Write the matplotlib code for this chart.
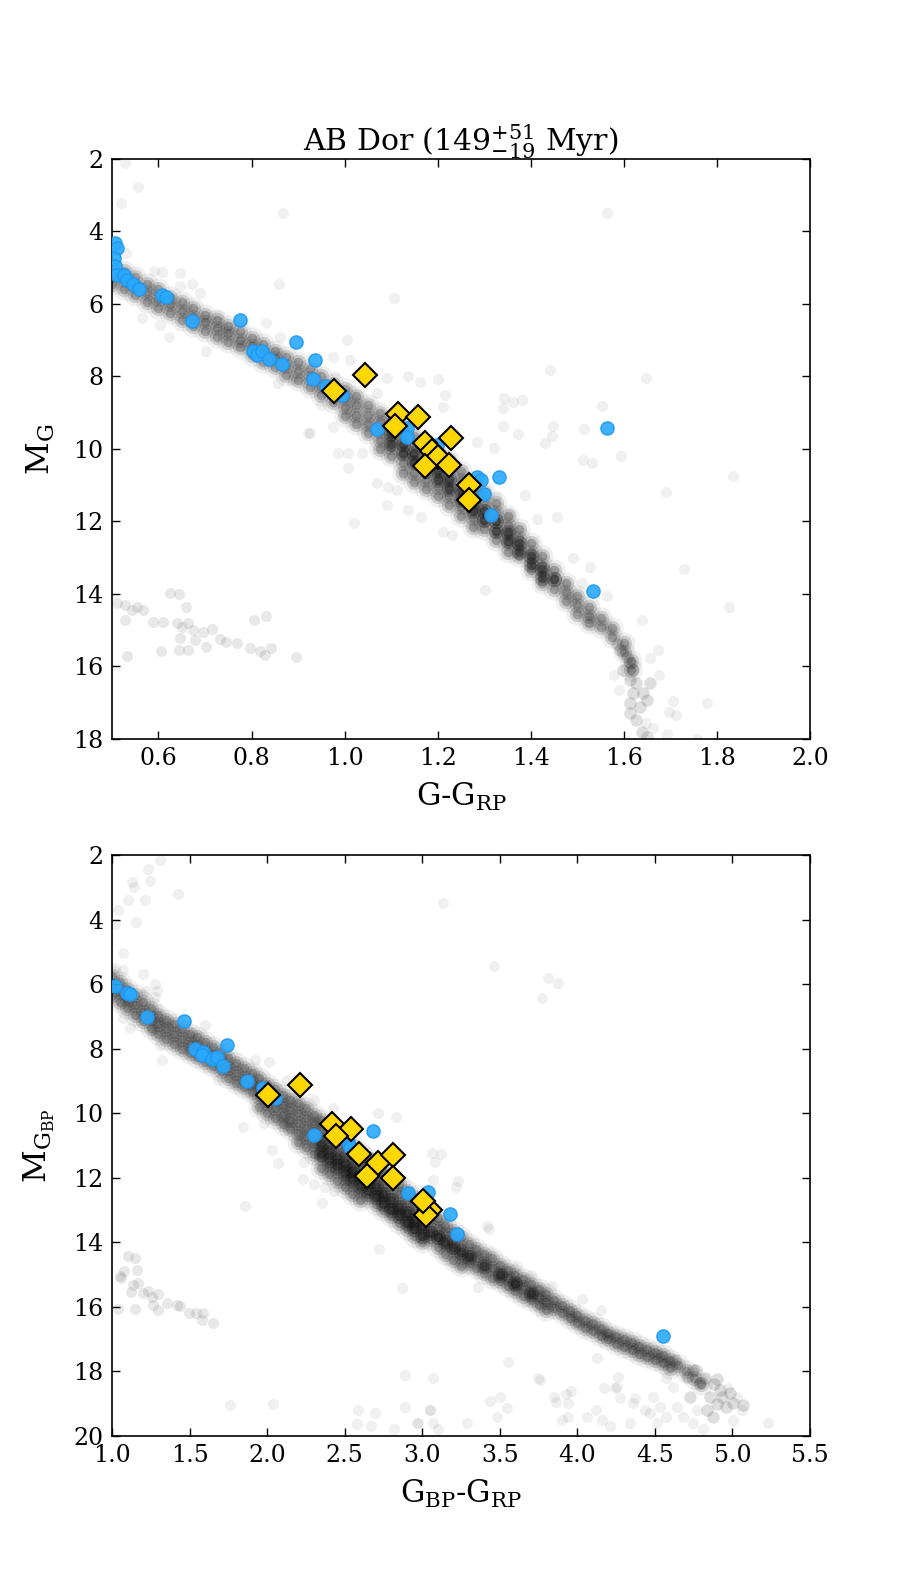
import matplotlib
matplotlib.use('Agg')
from matplotlib import pyplot as plt

plt.rcParams['font.family'] = 'DejaVu Serif'
plt.rcParams['mathtext.fontset'] = 'dejavuserif'

# ---- top panel: G-G_RP vs M_G ----
# main sequence of the field, read column by column (colour: list of mags)
ms_top_c = [0.500, 0.525, 0.550, 0.575, 0.600, 0.625, 0.650, 0.675, 0.700, 0.725,
            0.750, 0.775, 0.800, 0.825, 0.850, 0.875, 0.900, 0.925, 0.950, 0.975,
            1.000, 1.025, 1.050, 1.075, 1.100, 1.125, 1.150, 1.175, 1.200, 1.225,
            1.250, 1.275, 1.300, 1.325, 1.350, 1.375, 1.400, 1.425, 1.450, 1.475,
            1.500, 1.525, 1.550, 1.575, 1.600, 1.615]
ms_top_m = [[4.95, 5.2, 5.45], [5.1, 5.35, 5.6], [5.25, 5.5, 5.75], [5.45, 5.7, 5.95],
            [5.6, 5.85, 6.1], [5.8, 6.0, 6.25], [5.95, 6.2, 6.45], [6.1, 6.35, 6.6],
            [6.3, 6.5, 6.75], [6.45, 6.65, 6.9], [6.6, 6.8, 7.05], [6.75, 7.0, 7.2],
            [6.95, 7.15, 7.4], [7.1, 7.35, 7.6], [7.3, 7.5, 7.75], [7.45, 7.7, 7.95],
            [7.6, 7.85, 8.1], [7.8, 8.05, 8.3], [8.0, 8.25, 8.5], [8.2, 8.45, 8.7],
            [8.35, 8.6, 8.85, 9.1], [8.55, 8.8, 9.05, 9.3], [8.8, 9.05, 9.3, 9.55],
            [9.0, 9.25, 9.5, 9.75, 10.0], [9.2, 9.45, 9.7, 9.95, 10.2],
            [9.4, 9.65, 9.9, 10.15, 10.4, 10.65], [9.65, 9.9, 10.15, 10.4, 10.65, 10.9],
            [9.85, 10.1, 10.35, 10.6, 10.85, 11.1], [10.05, 10.3, 10.55, 10.8, 11.05, 11.3],
            [10.3, 10.55, 10.8, 11.05, 11.3, 11.55], [10.6, 10.85, 11.1, 11.35, 11.6, 11.85],
            [10.9, 11.15, 11.4, 11.65, 11.9, 12.15], [11.2, 11.45, 11.7, 11.95, 12.2],
            [11.5, 11.75, 12.0, 12.25, 12.5], [11.85, 12.1, 12.35, 12.6, 12.85],
            [12.2, 12.45, 12.7, 12.95], [12.6, 12.85, 13.1, 13.35], [12.95, 13.2, 13.45, 13.7],
            [13.35, 13.6, 13.85], [13.7, 13.95, 14.2], [14.05, 14.3, 14.55],
            [14.35, 14.6, 14.8], [14.65, 14.9], [14.95, 15.2], [15.35, 15.6], [15.85, 16.1]]

# densest part of the sequence (extra stars near the ridge)
core_top = [(1.100, 9.6), (1.100, 9.85), (1.125, 9.85), (1.125, 10.1), (1.150, 10.1),
            (1.150, 10.35), (1.175, 10.35), (1.175, 10.6), (1.200, 10.6), (1.200, 10.85),
            (1.225, 10.85), (1.225, 11.1), (1.250, 11.15), (1.250, 11.4), (1.275, 11.45),
            (1.275, 11.7), (1.300, 11.7), (1.300, 11.95), (1.325, 12.0), (1.325, 12.25),
            (1.350, 12.3), (1.350, 12.55), (1.375, 12.6), (1.375, 12.85), (1.400, 12.95),
            (1.400, 13.2), (1.425, 13.3), (1.425, 13.55), (1.450, 13.6)]

hook_top = [(1.585, 15.37), (1.606, 15.73), (1.613, 15.91), (1.620, 16.1), (1.613, 16.37),
            (1.627, 16.46), (1.620, 16.74), (1.642, 16.74), (1.613, 17.02), (1.634, 17.11),
            (1.613, 17.29), (1.627, 17.48), (1.649, 16.92), (1.656, 16.46), (1.598, 16.1),
            (1.592, 15.55), (1.640, 17.8), (1.650, 17.95)]

field_top = [(0.528, 2.12), (0.555, 2.76), (0.52, 3.22), (0.868, 3.48), (1.563, 3.48),
             (0.53, 4.6), (0.59, 5.1), (0.607, 5.11), (0.646, 5.15), (0.671, 5.45),
             (0.646, 5.5), (0.689, 5.70), (0.860, 5.45), (1.105, 5.84), (0.564, 6.38),
             (0.603, 6.58), (0.623, 6.90), (0.703, 7.29), (0.728, 6.30), (0.832, 6.52),
             (0.861, 6.90), (1.004, 6.99), (0.976, 7.45), (1.011, 7.54), (0.98, 8.0),
             (0.857, 8.19), (0.89, 8.1), (1.09, 8.05), (1.137, 8.0), (1.163, 8.14),
             (1.201, 8.08), (1.216, 8.51), (1.212, 8.83), (1.069, 8.47), (0.922, 9.57),
             (0.976, 9.39), (0.95, 8.8), (1.441, 7.82), (1.648, 8.05), (1.342, 8.60),
             (1.362, 8.71), (1.382, 8.65), (1.34, 8.88), (1.554, 8.81), (1.34, 9.37),
             (1.373, 9.59), (1.448, 9.37), (1.445, 9.63), (1.514, 9.46), (1.285, 9.80),
             (1.32, 9.98), (1.43, 9.84), (1.513, 10.30), (1.531, 10.39), (1.593, 10.19),
             (1.835, 10.74), (1.691, 11.18), (1.387, 11.27), (1.413, 11.94), (1.456, 11.87),
             (1.325, 11.3), (1.355, 11.77), (1.49, 13.02), (1.528, 13.27), (1.729, 13.32),
             (1.302, 13.89), (1.511, 13.71), (1.563, 14.06), (1.825, 14.35), (1.640, 14.72),
             (1.656, 15.78), (1.674, 15.55), (1.676, 16.23), (1.578, 16.23), (1.589, 16.65),
             (1.778, 17.0), (1.705, 16.94), (1.696, 17.25), (1.711, 17.34), (1.663, 17.71),
             (1.648, 17.57), (1.692, 17.85), (1.757, 17.99), (0.926, 9.57), (0.986, 10.10),
             (1.008, 10.10), (1.037, 10.10), (1.008, 10.53), (1.069, 10.95), (1.094, 11.04),
             (1.112, 11.13), (1.091, 11.55), (1.021, 12.03), (1.137, 11.68), (1.165, 11.87),
             (1.212, 12.28), (1.230, 12.37)]

wd_top = [(0.510, 14.26), (0.528, 14.30), (0.542, 14.44), (0.553, 14.35), (0.567, 14.44),
          (0.528, 14.72), (0.589, 14.76), (0.610, 14.76), (0.625, 13.98), (0.643, 14.0),
          (0.660, 14.35), (0.639, 14.81), (0.650, 14.90), (0.664, 14.81), (0.646, 15.22),
          (0.675, 14.99), (0.696, 15.04), (0.714, 14.98), (0.678, 15.27), (0.703, 15.45),
          (0.732, 15.25), (0.746, 15.32), (0.768, 15.34), (0.797, 15.50), (0.818, 15.56),
          (0.829, 15.68), (0.841, 15.49), (0.805, 14.72), (0.830, 14.61), (0.895, 15.73),
          (0.605, 15.56), (0.643, 15.55), (0.663, 15.55), (0.532, 15.71)]

mem_top = [(0.506, 4.33), (0.511, 4.47), (0.504, 4.74), (0.506, 4.95), (0.510, 5.20),
           (0.526, 5.20), (0.532, 5.34), (0.546, 5.45), (0.559, 5.59), (0.608, 5.75),
           (0.616, 5.82), (0.673, 6.47), (0.775, 6.44), (0.804, 7.29), (0.812, 7.41),
           (0.822, 7.31), (0.838, 7.53), (0.865, 7.66), (0.895, 7.04), (0.936, 7.54),
           (0.931, 8.07), (0.961, 8.25), (0.994, 8.51), (1.070, 9.45), (1.135, 9.42),
           (1.135, 9.66), (1.198, 9.89), (1.284, 10.76), (1.294, 10.86), (1.332, 10.78),
           (1.300, 11.24), (1.314, 11.82), (1.563, 9.43), (1.534, 13.91)]

new_top = [(0.978, 8.39), (1.044, 7.96), (1.115, 9.03), (1.158, 9.11), (1.108, 9.38),
           (1.172, 9.83), (1.229, 9.71), (1.187, 10.07), (1.201, 10.21), (1.172, 10.47),
           (1.225, 10.44), (1.268, 10.99), (1.268, 11.41)]

# ---- bottom panel: G_BP-G_RP vs M_G_BP ----
ms_bot_c = [1.00, 1.05, 1.10, 1.15, 1.20, 1.25, 1.30, 1.35, 1.40, 1.45,
            1.50, 1.55, 1.60, 1.65, 1.70, 1.75, 1.80, 1.85, 1.90, 1.95,
            2.00, 2.05, 2.10, 2.15, 2.20, 2.25, 2.30, 2.35, 2.40, 2.45,
            2.50, 2.55, 2.60, 2.65, 2.70, 2.75, 2.80, 2.85, 2.90, 2.95,
            3.00, 3.05, 3.10, 3.15, 3.20, 3.25, 3.30, 3.35, 3.40, 3.45,
            3.50, 3.55, 3.60, 3.65, 3.70, 3.75, 3.80, 3.85, 3.90, 3.95,
            4.00, 4.05, 4.10, 4.15, 4.20, 4.25, 4.30, 4.35, 4.40, 4.45,
            4.50, 4.55, 4.60, 4.65, 4.70, 4.75, 4.80]
ms_bot_m = [[5.75, 6.05, 6.35], [5.95, 6.25, 6.55], [6.15, 6.45, 6.75], [6.35, 6.65, 6.95],
            [6.55, 6.85, 7.15], [6.75, 7.05, 7.35], [6.95, 7.25, 7.55], [7.1, 7.4, 7.7],
            [7.25, 7.55, 7.85], [7.4, 7.7, 8.0], [7.55, 7.85, 8.15], [7.65, 7.95, 8.25],
            [7.8, 8.1, 8.4], [7.95, 8.25, 8.55], [8.1, 8.4, 8.7], [8.3, 8.6, 8.9],
            [8.45, 8.75, 9.05], [8.6, 8.9, 9.2], [8.75, 9.05, 9.35], [8.9, 9.2, 9.5, 9.8],
            [9.1, 9.4, 9.7, 10.0], [9.25, 9.55, 9.85, 10.15], [9.45, 9.75, 10.05, 10.35],
            [9.6, 9.9, 10.2, 10.5], [9.7, 10.0, 10.3, 10.6, 10.9],
            [9.85, 10.15, 10.45, 10.75, 11.05], [10.05, 10.35, 10.65, 10.95, 11.25],
            [10.2, 10.5, 10.8, 11.1, 11.4, 11.7], [10.4, 10.7, 11.0, 11.3, 11.6, 11.9],
            [10.6, 10.9, 11.2, 11.5, 11.8, 12.1], [10.8, 11.1, 11.4, 11.7, 12.0, 12.3],
            [11.0, 11.3, 11.6, 11.9, 12.2, 12.5], [11.2, 11.5, 11.8, 12.1, 12.4, 12.7],
            [11.4, 11.7, 12.0, 12.3, 12.6], [11.6, 11.9, 12.2, 12.5, 12.8],
            [11.8, 12.1, 12.4, 12.7, 13.0], [12.0, 12.3, 12.6, 12.9, 13.2],
            [12.2, 12.5, 12.8, 13.1, 13.4], [12.4, 12.7, 13.0, 13.3, 13.6],
            [12.6, 12.9, 13.2, 13.5, 13.8], [12.8, 13.1, 13.4, 13.7, 14.0],
            [13.0, 13.3, 13.6, 13.9], [13.25, 13.55, 13.85, 14.15], [13.45, 13.75, 14.05, 14.35],
            [13.65, 13.95, 14.25, 14.55], [13.85, 14.15, 14.45, 14.75], [14.05, 14.35, 14.65],
            [14.2, 14.5, 14.8], [14.35, 14.65, 14.95], [14.5, 14.8, 15.1], [14.7, 14.95, 15.2],
            [14.85, 15.1, 15.35], [15.0, 15.25, 15.5], [15.15, 15.4, 15.65], [15.3, 15.55, 15.8],
            [15.45, 15.7, 15.95], [15.6, 15.85, 16.1], [15.8, 16.05], [15.95, 16.2],
            [16.1, 16.35], [16.25, 16.5], [16.4, 16.65], [16.5, 16.75], [16.65, 16.9],
            [16.8, 17.0], [16.9, 17.15], [17.0, 17.25], [17.1, 17.35], [17.2, 17.45],
            [17.3, 17.55], [17.4, 17.65], [17.5, 17.75], [17.65, 17.9], [17.8], [18.0],
            [18.2], [18.4]]

core_bot = [(2.35, 10.95), (2.35, 11.25), (2.40, 11.15), (2.40, 11.45), (2.45, 11.35),
            (2.45, 11.65), (2.50, 11.55), (2.50, 11.85), (2.55, 11.75), (2.55, 12.05),
            (2.60, 11.95), (2.60, 12.25), (2.65, 12.1), (2.65, 12.4), (2.70, 12.3),
            (2.70, 12.6), (2.75, 12.5), (2.75, 12.8), (2.80, 12.7), (2.80, 13.0),
            (2.85, 12.9), (2.85, 13.2), (2.90, 13.1), (2.90, 13.4), (2.95, 13.3),
            (2.95, 13.6), (3.00, 13.5), (3.00, 13.8), (3.05, 13.7), (3.10, 13.85),
            (3.15, 14.0), (3.20, 14.15), (3.25, 14.3), (3.30, 14.45), (3.40, 14.75),
            (3.50, 15.0), (3.60, 15.3), (3.70, 15.6)]

hook_bot = [(4.791, 18.37), (4.856, 18.78), (4.834, 19.19), (4.920, 18.57), (4.984, 18.68),
            (5.006, 18.99), (5.070, 19.04), (4.727, 18.78), (4.705, 18.16), (4.748, 17.95),
            (4.877, 19.40), (4.96, 19.1), (4.9, 18.25), (4.823, 18.21), (4.88, 18.4),
            (4.93, 18.8), (4.9, 19.0), (4.765, 17.95), (4.63, 17.64)]

field_bot = [(1.309, 2.15), (1.234, 2.44), (1.245, 2.80), (1.127, 2.83), (1.14, 3.0),
             (1.101, 3.39), (1.213, 3.39), (1.424, 3.21), (1.041, 3.70), (1.155, 4.09),
             (1.02, 4.15), (1.073, 5.03), (1.02, 5.5), (1.073, 5.56), (1.198, 5.69),
             (1.277, 6.0), (1.29, 6.2), (1.22, 6.2), (1.28, 6.4), (1.2, 6.3), (1.073, 7.06),
             (1.116, 7.37), (1.256, 7.42), (1.309, 7.88), (1.320, 8.35), (1.600, 7.27),
             (1.685, 8.97), (1.922, 8.35), (2.014, 8.40), (2.126, 8.97), (2.3, 9.6),
             (2.427, 9.85), (1.843, 10.42), (1.98, 10.3), (2.717, 9.98), (2.831, 10.11),
             (3.136, 3.48), (3.465, 5.43), (3.809, 5.82), (3.878, 5.96), (3.770, 6.42),
             (1.857, 12.87), (1.761, 19.04), (2.040, 19.01), (2.352, 12.79), (2.030, 11.14),
             (2.073, 11.55), (2.24, 11.5), (2.233, 12.03), (2.3, 12.2), (2.373, 12.28),
             (2.43, 12.4), (2.721, 14.22), (2.868, 15.42), (2.889, 18.11), (3.072, 18.21),
             (2.588, 19.19), (2.696, 19.30), (2.578, 19.64), (2.67, 19.7), (2.89, 19.1),
             (2.975, 19.6), (3.05, 19.2), (3.1, 19.8), (2.82, 19.8), (3.061, 11.24),
             (3.12, 11.26), (3.08, 11.5), (3.23, 12.1), (3.07, 12.07), (3.22, 12.3),
             (3.416, 13.5), (3.43, 13.6), (3.609, 14.75), (3.7, 15.0), (3.835, 15.37),
             (4.03, 15.75), (4.15, 16.1), (3.36, 15.4), (3.55, 17.7), (3.437, 18.93),
             (3.5, 18.8), (3.545, 19.14), (3.480, 19.40), (3.287, 19.6), (3.050, 19.19),
             (2.965, 19.6), (3.07, 19.6), (3.749, 18.21), (3.760, 18.26), (3.85, 18.8),
             (3.86, 18.95), (3.93, 18.7), (3.96, 18.6), (3.942, 18.99), (3.94, 19.4),
             (3.9, 19.5), (4.061, 19.40), (4.12, 19.2), (4.16, 19.5), (4.21, 19.7),
             (4.34, 19.6), (4.254, 18.47), (4.17, 18.5), (4.265, 18.16), (4.13, 17.6),
             (4.24, 18.5), (4.275, 18.83), (4.361, 18.99), (4.372, 18.83), (4.436, 19.19),
             (4.47, 19.3), (4.490, 18.78), (4.53, 19.1), (4.512, 19.6), (4.57, 19.4),
             (4.57, 18.2), (4.619, 18.47), (4.640, 19.09), (4.683, 19.40), (4.748, 19.6),
             (4.81, 19.8), (4.77, 19.2), (5.006, 19.50), (5.03, 18.8), (4.97, 18.5),
             (5.06, 19.2), (5.231, 19.59), (4.52, 17.45)]

wd_bot = [(1.052, 15.06), (1.06, 15.1), (1.105, 14.44), (1.148, 14.49), (1.16, 14.85),
          (1.137, 15.32), (1.17, 15.25), (1.12, 15.55), (1.202, 15.58), (1.23, 15.5),
          (1.26, 15.7), (1.3, 15.6), (1.266, 15.94), (1.3, 16.1), (1.353, 15.89),
          (1.417, 15.94), (1.44, 15.96), (1.148, 16.07), (1.04, 16.06), (1.499, 16.20),
          (1.589, 16.20), (1.58, 16.4), (1.653, 16.49), (1.54, 16.18), (1.08, 14.9)]

mem_bot = [(1.019, 6.05), (1.099, 6.27), (1.116, 6.32), (1.224, 7.01), (1.466, 7.14),
           (1.535, 8.02), (1.589, 8.09), (1.578, 8.20), (1.643, 8.33), (1.675, 8.27),
           (1.718, 8.54), (1.744, 7.89), (1.868, 8.99), (1.976, 9.23), (2.051, 9.54),
           (2.304, 10.67), (2.685, 10.55), (2.524, 10.88), (2.535, 11.04), (2.910, 12.46),
           (3.039, 12.43), (3.182, 13.12), (3.224, 13.74), (4.550, 16.90)]

new_bot = [(2.008, 9.43), (2.212, 9.12), (2.416, 10.34), (2.541, 10.49), (2.444, 10.70),
           (2.595, 11.26), (2.717, 11.53), (2.814, 11.29), (2.642, 11.94), (2.814, 12.02),
           (3.05, 13.0), (3.024, 13.15), (3.007, 12.72)]


def columns(cols, mags):
    xs, ys = [], []
    for c, ml in zip(cols, mags):
        for m in ml:
            xs.append(c)
            ys.append(m)
    return xs, ys


def draw(ax, ms_c, ms_m, core, hook, field, wd, mem, new):
    sx, sy = columns(ms_c, ms_m)
    # dense field sequence: same stars drawn as soft halo, mid and core
    ax.plot(sx, sy, 'o', color='k', mec='none', ms=16, alpha=0.06, zorder=1)
    ax.plot(sx, sy, 'o', color='k', mec='none', ms=11, alpha=0.14, zorder=1)
    ax.plot(sx, sy, 'o', color='k', mec='none', ms=7, alpha=0.22, zorder=1)
    cx, cy = zip(*core)
    ax.plot(cx, cy, 'o', color='k', mec='none', ms=11, alpha=0.22, zorder=1)
    ax.plot(cx, cy, 'o', color='k', mec='none', ms=7, alpha=0.3, zorder=1)
    hx, hy = zip(*hook)
    ax.plot(hx, hy, 'o', color='k', mec='none', ms=9, alpha=0.13, zorder=1)
    fx, fy = zip(*field)
    ax.plot(fx, fy, 'o', color='k', mec='none', ms=8, alpha=0.06, zorder=1)
    wx, wy = zip(*wd)
    ax.plot(wx, wy, 'o', color='k', mec='none', ms=8, alpha=0.09, zorder=1)
    mx, my = zip(*mem)
    ax.plot(mx, my, 'o', color='#29aaff', mec='#1e96f0', mew=1.0, ms=9.5, alpha=0.9, zorder=3)
    nx, ny = zip(*new)
    ax.plot(nx, ny, 'D', color='#ffd700', mec='k', mew=1.5, ms=12, zorder=4)


def style(ax):
    ax.tick_params(direction='in', top=True, right=True, length=6, width=1, labelsize=17, pad=6)
    for s in ax.spines.values():
        s.set_linewidth(1.2)


fig = plt.figure(figsize=(9, 15.96), dpi=100)
ax1 = fig.add_axes([0.1244, 0.537, 0.7756, 0.3634])
ax2 = fig.add_axes([0.1244, 0.1003, 0.7756, 0.364])

draw(ax1, ms_top_c, ms_top_m, core_top, hook_top, field_top, wd_top, mem_top, new_top)
ax1.set_xlim(0.5, 2.0)
ax1.set_ylim(18, 2)
ax1.set_xticks([0.6, 0.8, 1.0, 1.2, 1.4, 1.6, 1.8, 2.0])
ax1.set_yticks([2, 4, 6, 8, 10, 12, 14, 16, 18])
ax1.set_xlabel(r'G-G$_{\rm RP}$', fontsize=22, labelpad=8)
ax1.set_ylabel(r'M$_{\rm G}$', fontsize=23, labelpad=12)
ax1.set_title(r'AB Dor ($149^{+51}_{-19}$ Myr)', fontsize=21.5, pad=6)
style(ax1)

draw(ax2, ms_bot_c, ms_bot_m, core_bot, hook_bot, field_bot, wd_bot, mem_bot, new_bot)
ax2.set_xlim(1.0, 5.5)
ax2.set_ylim(20, 2)
ax2.set_xticks([1.0, 1.5, 2.0, 2.5, 3.0, 3.5, 4.0, 4.5, 5.0, 5.5])
ax2.set_yticks([2, 4, 6, 8, 10, 12, 14, 16, 18, 20])
ax2.set_xlabel(r'G$_{\rm BP}$-G$_{\rm RP}$', fontsize=22, labelpad=8)
ax2.set_ylabel(r'M$_{\rm G_{BP}}$', fontsize=23, labelpad=12)
style(ax2)

fig.savefig('out.png', dpi=100)
